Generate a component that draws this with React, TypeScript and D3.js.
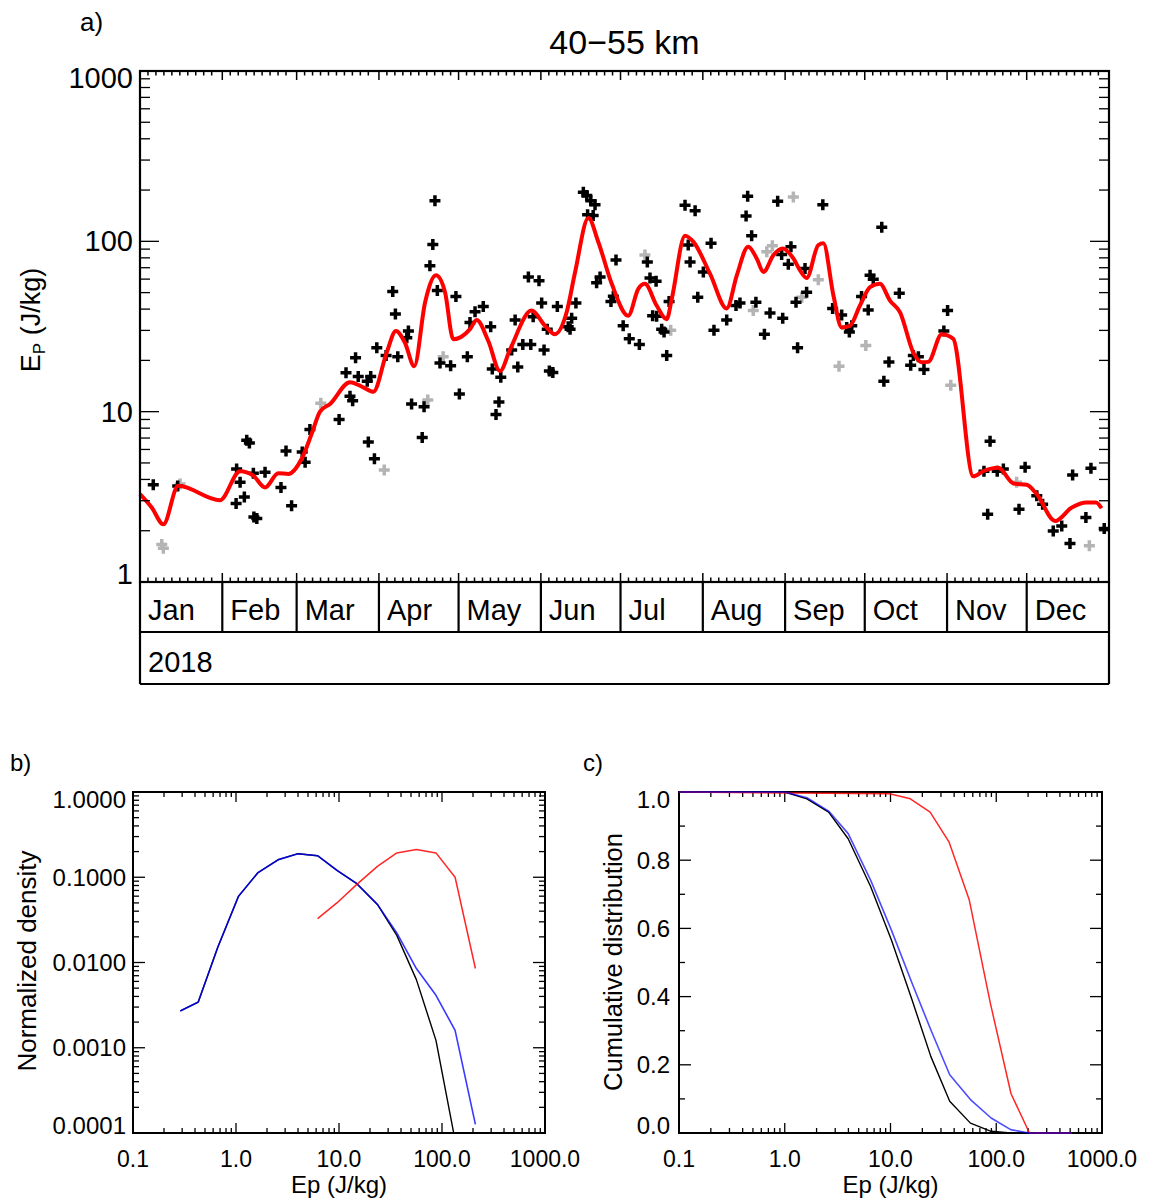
import React from 'react';
import * as d3 from 'd3';

// ---------- Panel a data (day of year 2018, Ep in J/kg) ----------
const blackDays = [5.0,14.2,36.4,37.7,39.3,36.2,40.2,41.2,42.7,42.9,44.0,47.1,53.1,55.0,57.1,61.1,62.2,64.0,75.0,77.6,79.1,80.1,81.2,82.2,85.6,86.9,86.0,88.3,89.2,92.7,95.2,96.2,97.1,101.1,100.5,102.3,106.3,107.0,109.2,110.3,111.1,112.0,113.0,117.0,119.0,120.3,123.3,124.3,126.2,129.3,132.1,132.7,135.9,135.2,134.1,140.0,141.3,142.3,144.2,147.2,146.3,150.3,148.1,151.3,152.2,154.2,155.5,153.4,157.2,161.3,162.6,162.0,164.2,167.0,168.3,169.8,171.4,168.6,170.7,172.0,173.3,177.4,178.3,179.3,182.0,184.3,188.1,191.1,192.1,194.4,193.1,194.6,196.5,197.4,198.4,199.3,205.3,209.1,206.5,207.2,212.2,210.1,215.1,216.2,221.0,224.5,226.0,228.3,228.9,230.4,232.0,235.2,237.3,240.2,242.1,241.7,245.2,244.2,247.1,247.7,257.2,250.5,251.1,260.9,264.3,266.2,268.1,267.2,271.8,274.3,275.0,276.2,279.4,280.2,282.1,286.0,290.3,291.3,293.2,295.3,302.8,304.2,320.2,319.3,317.9,322.9,325.2,331.1,333.4,337.8,340.0,344.0,347.2,350.3,351.3,356.3,358.2,363.2];
const blackEp = [3.72,3.66,4.61,3.85,3.16,2.89,6.79,6.55,4.35,2.41,2.36,4.41,3.59,5.87,2.80,5.79,5.05,7.86,9.0,16.9,12.3,11.6,20.7,16.1,15.1,16.1,6.64,5.29,23.7,21.4,50.8,37.4,21.0,29.8,27.2,11.1,7.05,10.7,71.8,95.9,173,51.5,19.3,18.6,47.4,12.7,21.0,33.4,38.6,41.4,31.5,17.8,15.9,11.4,9.64,23.0,34.5,18.3,24.8,24.8,61.7,58.7,36.1,43.5,23.0,17.3,17.0,30.5,41.4,31.5,35.3,30.5,43.5,194,186,173,164,143,142,57.1,61.7,44.3,47.6,77.6,31.9,26.8,24.8,75.7,60.9,58.2,36.6,36.3,30.5,29.4,21.4,44.3,163,151,95.1,75.7,66.1,47.0,97.3,30.1,34.5,42.0,43.5,141,184,108,43.9,28.5,37.9,172,35.3,83.7,93.0,73.4,43.9,23.7,164,69.2,50.3,40.4,36.9,31.2,31.9,29.4,47.4,39.5,63.2,59.8,121,15.1,19.6,49.6,18.7,21.4,21.0,17.7,29.8,39.2,6.70,2.50,4.47,4.47,4.61,2.67,4.72,3.21,2.86,1.99,2.13,1.68,4.25,2.39,4.66,2.06];

const grayDays = [8.2,8.8,15.1,68.1,92.0,108.4,114.2,190.2,199.9,231.0,236.1,238.2,246.1,249.3,255.5,263.3,273.4,305.4,330.2,357.6];
const grayEp = [1.66,1.58,3.76,11.2,4.55,11.7,21.0,83.0,30.1,39.2,86.8,94.3,182,47.0,59.5,18.5,24.5,14.3,3.85,1.63];

const smoothDays = [0,4.4,8.8,14.4,30.1,37.7,42.7,47.1,52.1,55.9,60.9,64.7,67.8,71.6,79.1,84.1,87.9,92.9,96.4,99.8,103.3,107.4,111.5,114.9,118.0,124.3,126.8,131.2,135.6,139.4,147.5,152.6,156.3,160.7,163.9,168.9,172.6,177.7,183.9,187.7,190.2,194.6,198.4,200.3,205.3,208.4,214.7,221.0,224.8,229.1,232.3,234.8,238.6,242.1,246.1,248.6,251.1,255.5,257.4,261.2,264.3,267.4,271.2,275.0,278.7,282.5,286.3,291.3,294.4,296.9,302.0,306.3,313.9,317.6,323.3,329.0,334.0,337.8,344.7,351.0,356.6,360.1,362.2];
const smoothEp = [3.28,2.74,2.18,3.67,3.02,4.47,4.21,3.59,4.35,4.31,5.29,7.44,10.0,11.1,14.9,13.9,13.1,22.2,29.8,25.4,18.5,43.9,63.2,50.3,26.6,30.5,34.5,26.0,17.3,23.2,39.2,31.9,28.5,38.3,66.1,137,99.5,56.3,36.6,52.6,56.3,42.0,34.9,45.9,108,99.5,64.6,40.4,63.2,93.0,79.3,66.1,83.0,90.8,79.3,67.6,60.9,95.1,97.3,48.1,31.2,31.9,42.0,53.8,56.3,44.9,38.3,22.2,19.5,19.6,28.5,26.8,4.17,4.47,4.68,3.79,3.72,3.28,2.28,2.74,2.93,2.93,2.71];

const monthNames = ['Jan','Feb','Mar','Apr','May','Jun','Jul','Aug','Sep','Oct','Nov','Dec'];
const yearLabel = '2018';
const titleText = '40\u221255 km';
const aTicks = ['1','10','100','1000'];

// ---------- Panel b data (normalized density) ----------
const densBlueEp = [0.288,0.43,0.667,1.057,1.63,2.58,4.0,6.2,9.6,14.9,23.6,36.4,56.4,87.4,134,211];
const densBlue = [0.0027,0.00344,0.0152,0.0597,0.113,0.161,0.189,0.179,0.12,0.084,0.048,0.0222,0.0085,0.00412,0.0016,0.000126];
const densBlackEp = [0.288,0.43,0.667,1.057,1.63,2.58,4.0,6.2,9.6,14.9,23.6,36.4,56.4,87.4,134];
const densBlack = [0.0027,0.00344,0.0152,0.0597,0.113,0.161,0.189,0.179,0.12,0.084,0.048,0.0208,0.0063,0.00122,0.000082];
const densRedEp = [6.2,9.6,14.9,23.6,36.4,56.4,87.4,134,211];
const densRed = [0.0327,0.0503,0.0826,0.134,0.193,0.211,0.193,0.1,0.0085];
const bYLabels = ['0.0001','0.0010','0.0100','0.1000','1.0000'];
const xLabels = ['0.1','1.0','10.0','100.0','1000.0'];

// ---------- Panel c data (cumulative distribution) ----------
const cdfBlackEp = [0.1,1.0,1.62,2.6,3.98,6.5,10.2,16.0,24.1,36.3,57,89.4,137,520];
const cdfBlack = [1,1,0.98,0.941,0.863,0.722,0.566,0.39,0.224,0.093,0.029,0.005,0,0];
const cdfBlueEp = [0.1,1.0,1.62,2.6,3.98,6.5,10.2,16,24.1,36.3,57,89.4,137,203,520];
const cdfBlue = [1,1,0.983,0.944,0.878,0.741,0.595,0.439,0.302,0.171,0.098,0.044,0.01,0,0];
const cdfRedEp = [0.1,9.8,15.4,23.7,35.7,55.6,88,138,206,520];
const cdfRed = [1,0.995,0.98,0.941,0.854,0.683,0.38,0.115,0,0];
const cYTicks = [0,0.2,0.4,0.6,0.8,1.0];

const FONT = '"Liberation Sans", Arial, Helvetica, sans-serif';

function logTicks(lo: number, hi: number) {
  const major: number[] = [];
  const minor: number[] = [];
  const e0 = Math.round(Math.log10(lo));
  const e1 = Math.round(Math.log10(hi));
  for (let e = e0; e < e1; e++) {
    const b = Math.pow(10, e);
    major.push(b);
    for (let m = 2; m <= 9; m++) minor.push(m * b);
  }
  major.push(Math.pow(10, e1));
  return { major, minor };
}

function edgeShift(y: number, top: number, bottom: number) {
  if (Math.abs(y - top) < 1) return y + 7;
  if (Math.abs(y - bottom) < 1) return y - 8;
  return y;
}

export default function App() {
  const W = 1160, H = 1200;

  // ----- panel a geometry -----
  const aL = 140, aR = 1109, aT = 71, aB = 582, monthB = 632, yearB = 684;
  const xA = d3.scaleLinear().domain([0, 365]).range([aL, aR]);
  const yA = d3.scaleLog().domain([1, 1000]).range([aB, aT]);
  const jan1 = new Date(Date.UTC(2018, 0, 1));
  const monthStarts = d3.range(13).map(m => d3.utcDay.count(jan1, new Date(Date.UTC(2018, m, 1))));
  const dayMinor: number[] = [];
  for (let m = 0; m < 12; m++) {
    for (let d = monthStarts[m] + 3; d < monthStarts[m + 1] - 1.5; d += 3) dayMinor.push(d);
  }
  const aY = logTicks(1, 1000);

  const smoothLine = d3.line<number>()
    .x((_, i) => xA(smoothDays[i]))
    .y((d) => yA(d))
    .curve(d3.curveMonotoneX);

  const plus = (x: number, y: number) => `M${x - 5.5},${y}H${x + 5.5}M${x},${y - 5.5}V${y + 5.5}`;

  // ----- panel b geometry -----
  const bL = 133, bR = 545, bT = 792, bB = 1133;
  const xB = d3.scaleLog().domain([0.1, 1000]).range([bL, bR]);
  const yB = d3.scaleLog().domain([1e-4, 1]).range([bB, bT]);
  const bX = logTicks(0.1, 1000);
  const bY = logTicks(1e-4, 1);

  // ----- panel c geometry -----
  const cL = 679, cR = 1102, cT = 792, cB = 1133;
  const xC = d3.scaleLog().domain([0.1, 1000]).range([cL, cR]);
  const yC = d3.scaleLinear().domain([0, 1]).range([cB, cT]);
  const cMinorY = [0.1, 0.3, 0.5, 0.7, 0.9];

  const mkLine = (xs: number[], sx: any, sy: any) =>
    d3.line<number>().x((_, i) => sx(xs[i])).y((d) => sy(d));

  const xTickMarks = (sx: any, ticks: { major: number[]; minor: number[] }, top: number, bottom: number, maj: number, mn: number) => (
    <g stroke="#000" strokeWidth={1.3}>
      {ticks.major.map((t, i) => (
        <g key={'M' + i}>
          <line x1={sx(t)} x2={sx(t)} y1={bottom} y2={bottom - maj} />
          <line x1={sx(t)} x2={sx(t)} y1={top} y2={top + maj} />
        </g>
      ))}
      {ticks.minor.map((t, i) => (
        <g key={'m' + i}>
          <line x1={sx(t)} x2={sx(t)} y1={bottom} y2={bottom - mn} />
          <line x1={sx(t)} x2={sx(t)} y1={top} y2={top + mn} />
        </g>
      ))}
    </g>
  );

  const yTickMarks = (sy: any, major: number[], minor: number[], left: number, right: number, maj: number, mn: number) => (
    <g stroke="#000" strokeWidth={1.3}>
      {major.map((t, i) => (
        <g key={'M' + i}>
          <line x1={left} x2={left + maj} y1={sy(t)} y2={sy(t)} />
          <line x1={right} x2={right - maj} y1={sy(t)} y2={sy(t)} />
        </g>
      ))}
      {minor.map((t, i) => (
        <g key={'m' + i}>
          <line x1={left} x2={left + mn} y1={sy(t)} y2={sy(t)} />
          <line x1={right} x2={right - mn} y1={sy(t)} y2={sy(t)} />
        </g>
      ))}
    </g>
  );

  return (
    <svg width={W} height={H} viewBox={`0 0 ${W} ${H}`}
      style={{ position: 'absolute', left: 0, top: 0, background: '#fff', fontFamily: FONT }}>
      <rect x={0} y={0} width={W} height={H} fill="#fff" />

      {/* ================= Panel a ================= */}
      <text x={80} y={31} fontSize={26}>a)</text>
      <text x={(aL + aR) / 2} y={54} fontSize={34} textAnchor="middle">{titleText}</text>

      {/* points */}
      <g stroke="#b4b4b4" strokeWidth={3.5} fill="none">
        {grayDays.map((d, i) => <path key={i} d={plus(xA(d), yA(grayEp[i]))} />)}
      </g>
      <g stroke="#000" strokeWidth={3.5} fill="none">
        {blackDays.map((d, i) => <path key={i} d={plus(xA(d), yA(blackEp[i]))} />)}
      </g>
      <path d={smoothLine(smoothEp) || ''} fill="none" stroke="#ff0000" strokeWidth={4} strokeLinejoin="round" />

      {/* ticks */}
      <g stroke="#000" strokeWidth={1.5}>
        {monthStarts.slice(1, 12).map((d, i) => (
          <g key={i}>
            <line x1={xA(d)} x2={xA(d)} y1={aB} y2={aB - 9} />
            <line x1={xA(d)} x2={xA(d)} y1={aT} y2={aT + 9} />
          </g>
        ))}
        {dayMinor.map((d, i) => (
          <g key={'n' + i}>
            <line x1={xA(d)} x2={xA(d)} y1={aB} y2={aB - 4.5} />
            <line x1={xA(d)} x2={xA(d)} y1={aT} y2={aT + 4.5} />
          </g>
        ))}
      </g>
      {yTickMarks(yA, aY.major, aY.minor, aL, aR, 19, 10)}
      <rect x={aL} y={aT} width={aR - aL} height={aB - aT} fill="none" stroke="#000" strokeWidth={2.2} />
      {aY.major.map((t, i) => (
        <text key={i} x={aL - 7} y={edgeShift(yA(t), aT, aB)} fontSize={29} textAnchor="end" dominantBaseline="central">{aTicks[i]}</text>
      ))}

      {/* month / year boxes */}
      <g stroke="#000" strokeWidth={2.2} fill="none">
        <line x1={aL} x2={aR} y1={monthB} y2={monthB} />
        <line x1={aL} x2={aR} y1={yearB} y2={yearB} />
        <line x1={aL} x2={aL} y1={aB} y2={yearB} />
        <line x1={aR} x2={aR} y1={aB} y2={yearB} />
        {monthStarts.slice(1, 12).map((d, i) => (
          <line key={i} x1={xA(d)} x2={xA(d)} y1={aB} y2={monthB} />
        ))}
      </g>
      {monthNames.map((m, i) => (
        <text key={m} x={xA(monthStarts[i]) + 8} y={620} fontSize={29}>{m}</text>
      ))}
      <text x={aL + 8} y={672} fontSize={29}>{yearLabel}</text>

      <text transform={`translate(40,320) rotate(-90)`} fontSize={27} textAnchor="middle">
        E<tspan fontSize={17} dy={5}>P</tspan><tspan dy={-5}> (J/kg)</tspan>
      </text>

      {/* ================= Panel b ================= */}
      <text x={10} y={771} fontSize={24}>b)</text>
      <defs>
        <clipPath id="clipB"><rect x={bL} y={bT} width={bR - bL} height={bB - bT} /></clipPath>
        <clipPath id="clipC"><rect x={cL - 2} y={cT - 2} width={cR - cL + 4} height={cB - cT + 4} /></clipPath>
      </defs>
      <g clipPath="url(#clipB)" fill="none" strokeLinejoin="round">
        <path d={mkLine(densBlackEp, xB, yB)(densBlack) || ''} stroke="#000" strokeWidth={1.4} />
        <path d={mkLine(densBlueEp, xB, yB)(densBlue) || ''} stroke="#0000ff" strokeWidth={1.6} strokeOpacity={0.78} />
        <path d={mkLine(densRedEp, xB, yB)(densRed) || ''} stroke="#ff0000" strokeWidth={1.5} strokeOpacity={0.85} />
      </g>
      {xTickMarks(xB, bX, bT, bB, 10, 5)}
      {yTickMarks(yB, bY.major, bY.minor, bL, bR, 12, 6)}
      <rect x={bL} y={bT} width={bR - bL} height={bB - bT} fill="none" stroke="#000" strokeWidth={2} />
      {bY.major.map((t, i) => (
        <text key={i} x={bL - 7} y={edgeShift(yB(t), bT, bB)} fontSize={24} textAnchor="end" dominantBaseline="central">{bYLabels[i]}</text>
      ))}
      {bX.major.map((t, i) => (
        <text key={i} x={xB(t)} y={1167} fontSize={23} textAnchor="middle">{xLabels[i]}</text>
      ))}
      <text x={(bL + bR) / 2} y={1193} fontSize={24} textAnchor="middle">Ep (J/kg)</text>
      <text transform={`translate(36,961) rotate(-90)`} fontSize={26} textAnchor="middle">Normalized density</text>

      {/* ================= Panel c ================= */}
      <text x={583} y={771} fontSize={24}>c)</text>
      {xTickMarks(xC, bX, cT, cB, 10, 5)}
      {yTickMarks(yC, cYTicks, cMinorY, cL, cR, 12, 6)}
      <rect x={cL} y={cT} width={cR - cL} height={cB - cT} fill="none" stroke="#000" strokeWidth={2} />
      <g clipPath="url(#clipC)" fill="none" strokeLinejoin="round">
        <path d={mkLine(cdfBlackEp, xC, yC)(cdfBlack) || ''} stroke="#000" strokeWidth={1.4} />
        <path d={mkLine(cdfRedEp, xC, yC)(cdfRed) || ''} stroke="#ff0000" strokeWidth={1.5} strokeOpacity={0.85} />
        <path d={mkLine(cdfBlueEp, xC, yC)(cdfBlue) || ''} stroke="#0000ff" strokeWidth={1.6} strokeOpacity={0.7} />
      </g>
      {cYTicks.map((t, i) => (
        <text key={i} x={cL - 9} y={edgeShift(yC(t), cT, cB)} fontSize={24} textAnchor="end" dominantBaseline="central">{t.toFixed(1)}</text>
      ))}
      {bX.major.map((t, i) => (
        <text key={i} x={xC(t)} y={1167} fontSize={23} textAnchor="middle">{xLabels[i]}</text>
      ))}
      <text x={(cL + cR) / 2} y={1193} fontSize={24} textAnchor="middle">Ep (J/kg)</text>
      <text transform={`translate(622,962) rotate(-90)`} fontSize={25.5} textAnchor="middle">Cumulative distribution</text>
    </svg>
  );
}
